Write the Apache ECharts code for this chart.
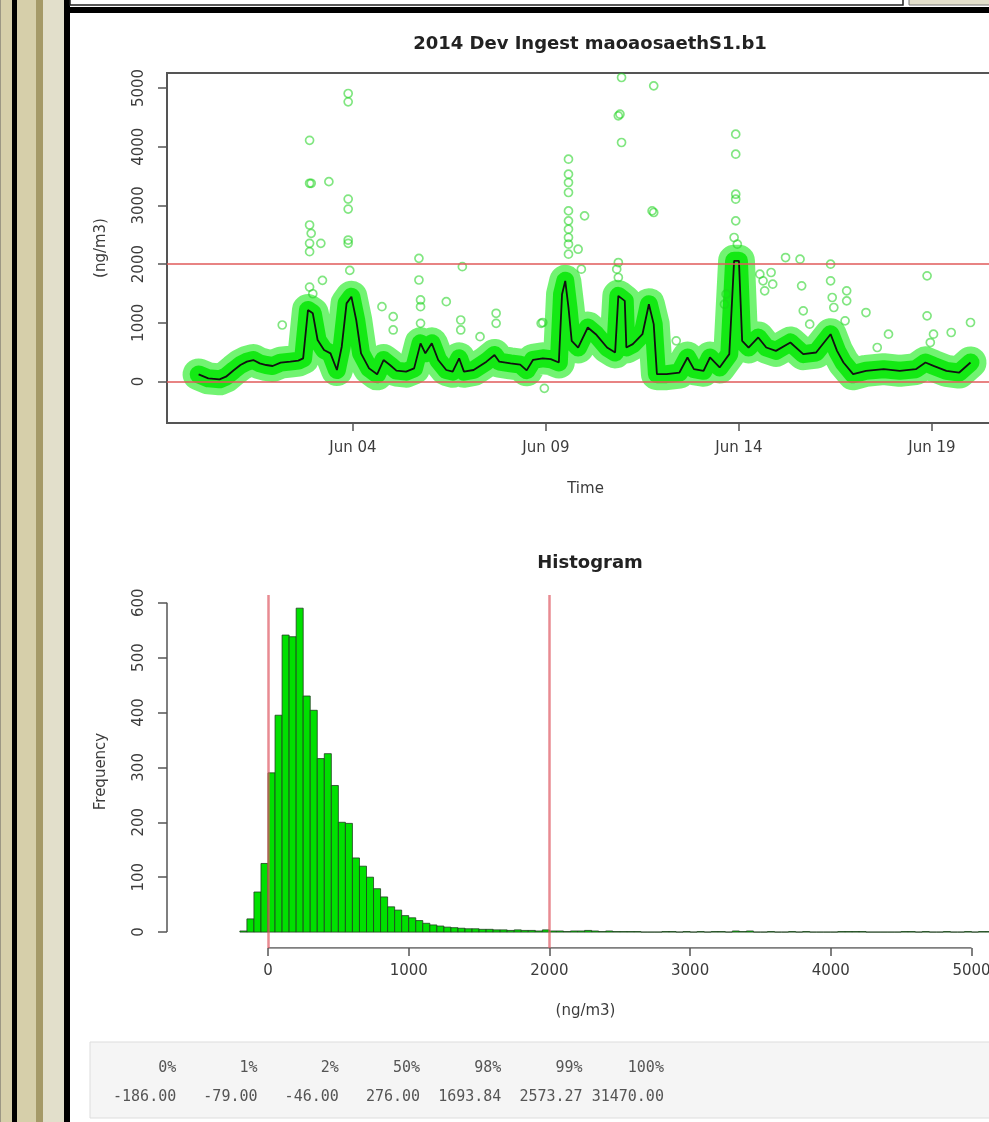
<!DOCTYPE html>
<html>
<head>
<meta charset="utf-8">
<title>2014 Dev Ingest maoaosaethS1.b1</title>
<script src="https://cdn.jsdelivr.net/npm/echarts@6/dist/echarts.min.js"></script>
<style>
html, body { margin:0; padding:0; width:989px; height:1122px; overflow:hidden; background:#fff; }
#main { position:absolute; left:0; top:0; width:1030px; height:1122px; }
</style>
</head>
<body>
<div id="main"></div>
<script>
// smoothed concentration (black line)
var lineTimes = [
	'2014-05-31 00:00','2014-05-31 06:00','2014-05-31 13:00','2014-05-31 17:00','2014-05-31 22:00',
	'2014-06-01 02:00','2014-06-01 06:00','2014-06-01 10:00','2014-06-01 14:00','2014-06-01 18:00','2014-06-01 22:00',
	'2014-06-02 03:00','2014-06-02 09:00','2014-06-02 14:00','2014-06-02 17:00','2014-06-02 20:00','2014-06-02 23:00',
	'2014-06-03 02:00','2014-06-03 06:00','2014-06-03 10:00','2014-06-03 14:00','2014-06-03 17:00','2014-06-03 20:00','2014-06-03 23:00',
	'2014-06-04 02:00','2014-06-04 05:00','2014-06-04 10:00','2014-06-04 15:00','2014-06-04 19:00','2014-06-04 23:00',
	'2014-06-05 03:00','2014-06-05 09:00','2014-06-05 14:00','2014-06-05 18:00','2014-06-05 21:00',
	'2014-06-06 01:00','2014-06-06 05:00','2014-06-06 10:00','2014-06-06 14:00','2014-06-06 18:00','2014-06-06 21:00',
	'2014-06-07 03:00','2014-06-07 11:00','2014-06-07 16:00','2014-06-07 19:00',
	'2014-06-08 02:00','2014-06-08 08:00','2014-06-08 12:00','2014-06-08 16:00','2014-06-08 22:00',
	'2014-06-09 03:00','2014-06-09 08:00','2014-06-09 10:00','2014-06-09 12:00','2014-06-09 14:00','2014-06-09 16:00','2014-06-09 20:00',
	'2014-06-10 02:00','2014-06-10 07:00','2014-06-10 14:00','2014-06-10 19:00','2014-06-10 21:00',
	'2014-06-11 01:00','2014-06-11 02:00','2014-06-11 06:00','2014-06-11 12:00','2014-06-11 16:00','2014-06-11 19:00','2014-06-11 21:00',
	'2014-06-12 03:00','2014-06-12 11:00','2014-06-12 16:00','2014-06-12 20:00',
	'2014-06-13 02:00','2014-06-13 06:00','2014-06-13 12:00','2014-06-13 18:00','2014-06-13 21:00',
	'2014-06-14 00:00','2014-06-14 02:00','2014-06-14 06:00','2014-06-14 12:00','2014-06-14 17:00','2014-06-14 23:00',
	'2014-06-15 08:00','2014-06-15 16:00',
	'2014-06-16 00:00','2014-06-16 09:00','2014-06-16 13:00','2014-06-16 17:00','2014-06-16 23:00',
	'2014-06-17 07:00','2014-06-17 18:00','2014-06-18 04:00','2014-06-18 14:00','2014-06-18 20:00',
	'2014-06-19 01:00','2014-06-19 09:00','2014-06-19 17:00','2014-06-20 00:00'
];
var lineValues = [
	120, 54, 37, 82, 196,
	281, 338, 366, 309, 281, 264,
	321, 338, 355, 395, 1218, 1162,
	707, 537, 480, 196, 593, 1331, 1445,
	1048, 480, 224, 122, 366, 281,
	185, 168, 224, 650, 480,
	650, 366, 196, 168, 395, 168,
	196, 338, 451, 338,
	309, 288, 190, 370, 395,
	380, 324, 1488, 1715, 1261, 693, 579,
	920, 806, 579, 494, 1459,
	1374, 579, 636, 806, 1317, 977, 125,
	125, 153, 409, 210,
	182, 409, 239, 466, 2056,
	2056, 693, 579, 750, 579, 522,
	664, 466,
	494, 806, 522, 324, 125,
	182, 210, 182, 210, 324,
	267, 182, 153, 324
];

// isolated high readings (green circles away from the band)
var pointTimes = [
	'2014-06-02 04:00','2014-06-02 21:00','2014-06-02 21:00','2014-06-02 22:00','2014-06-02 21:00','2014-06-02 22:00',
	'2014-06-02 21:00','2014-06-02 21:00','2014-06-02 21:00','2014-06-02 23:00','2014-06-03 04:00','2014-06-03 05:00',
	'2014-06-03 09:00','2014-06-03 21:00','2014-06-03 21:00','2014-06-03 21:00','2014-06-03 21:00','2014-06-03 21:00',
	'2014-06-03 21:00','2014-06-03 22:00','2014-06-04 18:00','2014-06-05 01:00','2014-06-05 01:00','2014-06-05 17:00',
	'2014-06-05 17:00','2014-06-05 18:00','2014-06-05 18:00','2014-06-05 18:00','2014-06-06 10:00','2014-06-06 19:00',
	'2014-06-06 19:00','2014-06-06 20:00','2014-06-07 07:00','2014-06-07 17:00','2014-06-07 17:00','2014-06-08 21:00',
	'2014-06-08 22:00','2014-06-08 23:00',
	'2014-06-09 14:00','2014-06-09 14:00','2014-06-09 14:00','2014-06-09 14:00','2014-06-09 14:00','2014-06-09 14:00',
	'2014-06-09 14:00','2014-06-09 14:00','2014-06-09 14:00','2014-06-09 14:00','2014-06-09 20:00','2014-06-09 22:00',
	'2014-06-10 00:00','2014-06-10 20:00','2014-06-10 21:00','2014-06-10 21:00','2014-06-10 21:00','2014-06-10 22:00',
	'2014-06-10 23:00','2014-06-10 23:00','2014-06-11 18:00','2014-06-11 19:00','2014-06-11 19:00','2014-06-12 09:00',
	'2014-06-13 15:00','2014-06-13 16:00','2014-06-13 21:00','2014-06-13 22:00','2014-06-13 22:00','2014-06-13 22:00',
	'2014-06-13 22:00','2014-06-13 22:00','2014-06-13 23:00','2014-06-14 13:00','2014-06-14 15:00','2014-06-14 16:00',
	'2014-06-14 20:00','2014-06-14 21:00','2014-06-15 05:00','2014-06-15 14:00','2014-06-15 15:00','2014-06-15 16:00',
	'2014-06-15 20:00','2014-06-16 09:00','2014-06-16 09:00','2014-06-16 10:00','2014-06-16 11:00','2014-06-16 18:00',
	'2014-06-16 19:00','2014-06-16 19:00','2014-06-17 07:00','2014-06-17 14:00','2014-06-17 21:00','2014-06-18 21:00',
	'2014-06-18 21:00','2014-06-18 23:00','2014-06-19 01:00','2014-06-19 12:00','2014-06-20 00:00'
];
var pointValues = [
	963, 4109, 3377, 3377, 2666, 2524,
	2354, 2212, 1609, 1495, 2354, 1723,
	3405, 4907, 4765, 3108, 2938, 2410,
	2354, 1893, 1275, 1105, 878, 2098,
	1729, 1389, 1275, 991, 1360, 1048,
	878, 1956, 764, 1162, 991, 991,
	1005, -116,
	3788, 3532, 3390, 3220, 2907, 2737,
	2595, 2453, 2340, 2169, 2254, 1914,
	2822, 1914, 4526, 2027, 1772, 4554,
	5179, 4072, 2907, 5037, 2879, 693,
	1317, 1488, 2453, 4214, 3873, 3191,
	3106, 2737, 2340, 1829, 1715, 1545,
	1857, 1658, 2112, 2084, 1630, 1204,
	977, 1999, 1715, 1431, 1261, 1034,
	1545, 1374, 1175, 579, 806, 1800,
	1119, 664, 806, 835, 1005
];

var concTicks = [0, 1000, 2000, 3000, 4000, 5000];
var dayTicks = ['2014-06-04 00:00', '2014-06-09 00:00', '2014-06-14 00:00', '2014-06-19 00:00'];
var limitLines = [0, 2000];
var timeMin = '2014-05-30 04:20';
var timeMax = '2014-06-20 20:50';

// histogram: bins of 50 starting at -200
var histStart = -200;
var histWidth = 50;
var histCounts = [
	2, 24, 73, 125, 290, 395, 541, 538, 590, 430,
	404, 316, 325, 267, 200, 198, 135, 120, 100, 79,
	64, 46, 40, 30, 26, 21, 16, 13, 11, 9,
	8, 7, 6, 6, 5, 5, 4, 4, 3, 4,
	3, 3, 2, 4, 2, 2, 1, 2, 2, 3,
	2, 1, 2, 1, 1, 1, 1, 0, 0, 0,
	1, 1, 0, 1, 0, 1, 0, 1, 1, 0,
	2, 1, 2, 0, 0, 1, 0, 0, 1, 0,
	1, 0, 0, 0, 0, 1, 1, 1, 1, 0,
	0, 0, 0, 0, 1, 1, 0, 1, 0, 0,
	1, 0, 0, 1, 0, 1, 1, 0
];
var histXTicks = [0, 1000, 2000, 3000, 4000, 5000];
var histYTicks = [0, 100, 200, 300, 400, 500, 600];
var histLimits = [0, 2000];

var quantileNames = ['0%', '1%', '2%', '50%', '98%', '99%', '100%'];
var quantileValues = ['-186.00', '-79.00', '-46.00', '276.00', '1693.84', '2573.27', '31470.00'];

function toMs(s){
	return Date.parse(s.replace(' ', 'T') + ':00Z');
}
var months = ['Jan','Feb','Mar','Apr','May','Jun','Jul','Aug','Sep','Oct','Nov','Dec'];
function dayLabel(v){
	var d = new Date(v);
	var dd = d.getUTCDate();
	return months[d.getUTCMonth()] + ' ' + (dd < 10 ? '0' + dd : dd);
}
function plain(v){ return String(v); }
function padLeft(s, n){
	while (s.length < n) s = ' ' + s;
	return s;
}

var lineData = [];
for (var i = 0; i < lineTimes.length; i++) lineData.push([toMs(lineTimes[i]), lineValues[i]]);
var pointData = [];
for (var i = 0; i < pointTimes.length; i++) pointData.push([toMs(pointTimes[i]), pointValues[i]]);
var dayTickMs = dayTicks.map(toMs);

var histData = [];
for (var i = 0; i < histCounts.length; i++) {
	var lo = histStart + i * histWidth;
	histData.push([lo, lo + histWidth, histCounts[i]]);
}

// R prints quantile() as fixed-width columns
var colW = 8;
var headLine = quantileNames.map(function(s){ return padLeft(s, colW); }).join(' ');
var valLine = quantileValues.map(function(s){ return padLeft(s, colW); }).join(' ');

var FONT = 'DejaVu Sans';
var TXT = '#3c3c3c';
var AX = '#555';

var chart = echarts.init(document.getElementById('main'), null, {renderer: 'canvas'});

var option = {
	animation: false,
	backgroundColor: '#fff',
	textStyle: {fontFamily: FONT},
	title: [
		{text: '2014 Dev Ingest maoaosaethS1.b1', left: 585, top: 30, textAlign: 'center',
		 textStyle: {fontFamily: FONT, fontSize: 18, fontWeight: 'bold', color: '#222'}},
		{text: 'Histogram', left: 585, top: 549, textAlign: 'center',
		 textStyle: {fontFamily: FONT, fontSize: 18, fontWeight: 'bold', color: '#222'}}
	],
	grid: [
		{left: 167, top: 73, width: 837, height: 350, show: true, borderColor: '#555', borderWidth: 2, backgroundColor: 'transparent'},
		{left: 167, top: 595, width: 837, height: 353, show: false}
	],
	xAxis: [
		{
			gridIndex: 0, type: 'value', min: toMs(timeMin), max: toMs(timeMax),
			axisLine: {show: false, onZero: false},
			axisTick: {show: true, length: 8, customValues: dayTickMs, lineStyle: {color: AX, width: 1.5}},
			axisLabel: {customValues: dayTickMs, formatter: dayLabel, color: TXT, fontSize: 15, margin: 18, fontFamily: FONT},
			splitLine: {show: false},
			name: 'Time', nameLocation: 'middle', nameGap: 59,
			nameTextStyle: {color: TXT, fontSize: 15, fontFamily: FONT}
		},
		{
			gridIndex: 1, type: 'value', min: -718, max: 5231,
			axisLine: {show: false, onZero: false},
			axisTick: {show: true, length: 8, customValues: histXTicks, lineStyle: {color: AX, width: 1.5}},
			axisLabel: {customValues: histXTicks, formatter: plain, color: TXT, fontSize: 15, margin: 16, fontFamily: FONT},
			splitLine: {show: false},
			name: '(ng/m3)', nameLocation: 'middle', nameGap: 56,
			nameTextStyle: {color: TXT, fontSize: 15, fontFamily: FONT}
		}
	],
	yAxis: [
		{
			gridIndex: 0, type: 'value', min: -707, max: 5256,
			axisLine: {show: false, onZero: false},
			axisTick: {show: true, length: 9, customValues: concTicks, lineStyle: {color: AX, width: 1.5}},
			axisLabel: {customValues: concTicks, formatter: plain, rotate: 90, color: TXT, fontSize: 15, margin: 20, fontFamily: FONT},
			splitLine: {show: false},
			name: '(ng/m3)', nameLocation: 'middle', nameGap: 58,
			nameTextStyle: {color: TXT, fontSize: 15, fontFamily: FONT}
		},
		{
			gridIndex: 1, type: 'value', min: -29, max: 614,
			axisLine: {show: false, onZero: false},
			axisTick: {show: true, length: 9, customValues: histYTicks, lineStyle: {color: AX, width: 1.5}},
			axisLabel: {customValues: histYTicks, formatter: plain, rotate: 90, color: TXT, fontSize: 15, margin: 20, fontFamily: FONT},
			splitLine: {show: false},
			name: 'Frequency', nameLocation: 'middle', nameGap: 58,
			nameTextStyle: {color: TXT, fontSize: 15, fontFamily: FONT}
		}
	],
	series: [
		{
			// outer spread of the point cloud
			type: 'line', xAxisIndex: 0, yAxisIndex: 0, data: lineData,
			showSymbol: false, silent: true, z: 1,
			lineStyle: {color: 'rgba(20,235,20,0.6)', width: 32, join: 'round', cap: 'round'}
		},
		{
			// dense core of readings around the running mean
			type: 'line', xAxisIndex: 0, yAxisIndex: 0, data: lineData,
			showSymbol: false, silent: true, z: 1,
			lineStyle: {color: 'rgba(10,232,10,0.9)', width: 18, join: 'round', cap: 'round'}
		},
		{
			type: 'scatter', xAxisIndex: 0, yAxisIndex: 0, data: pointData,
			symbol: 'circle', symbolSize: 8, silent: true, z: 2,
			itemStyle: {color: 'rgba(0,0,0,0)', borderColor: 'rgba(30,210,30,0.7)', borderWidth: 1.7},
			markLine: {
				silent: true, symbol: 'none', label: {show: false},
				lineStyle: {color: '#e05a5a', width: 1.6, type: 'solid'},
				data: limitLines.map(function(v){ return {yAxis: v}; })
			}
		},
		{
			type: 'line', xAxisIndex: 0, yAxisIndex: 0, data: lineData,
			showSymbol: false, silent: true, z: 3,
			lineStyle: {color: '#111', width: 1.8}
		},
		{
			type: 'custom', xAxisIndex: 1, yAxisIndex: 1, data: histData, silent: true, z: 2,
			encode: {x: [0, 1], y: 2},
			renderItem: function(params, api){
				var p1 = api.coord([api.value(0), api.value(2)]);
				var p2 = api.coord([api.value(1), 0]);
				return {
					type: 'rect',
					shape: {x: p1[0], y: p1[1], width: p2[0] - p1[0], height: p2[1] - p1[1]},
					style: {fill: '#00e000', stroke: '#1f3f1f', lineWidth: 0.8}
				};
			},
			markLine: {
				silent: true, symbol: 'none', label: {show: false},
				lineStyle: {color: 'rgba(222,90,100,0.7)', width: 2.5, type: 'solid'},
				data: histLimits.map(function(v){ return {xAxis: v}; })
			}
		},
		{
			// R axis lines only cover the tick range
			type: 'line', xAxisIndex: 1, yAxisIndex: 1, silent: true, showSymbol: false, z: 3,
			data: [[-718, 0], [-718, 600]],
			lineStyle: {color: AX, width: 1.5}
		},
		{
			type: 'line', xAxisIndex: 1, yAxisIndex: 1, silent: true, showSymbol: false, z: 3,
			data: [[0, -29], [5000, -29]],
			lineStyle: {color: AX, width: 1.5}
		}
	],
	graphic: [
		// page frame on the left
		{type: 'rect', shape: {x: 0, y: 0, width: 1, height: 1122}, style: {fill: '#9c9784'}},
		{type: 'rect', shape: {x: 1, y: 0, width: 11, height: 1122}, style: {fill: '#d6cfaa'}},
		{type: 'rect', shape: {x: 12, y: 0, width: 5, height: 1122}, style: {fill: '#000'}},
		{type: 'rect', shape: {x: 17, y: 0, width: 19, height: 1122}, style: {fill: '#d6cfaa'}},
		{type: 'rect', shape: {x: 36, y: 0, width: 7, height: 1122}, style: {fill: '#a59a68'}},
		{type: 'rect', shape: {x: 43, y: 0, width: 21, height: 1122}, style: {fill: '#e2dfcb'}},
		{type: 'rect', shape: {x: 64, y: 0, width: 6, height: 1122}, style: {fill: '#000'}},
		{type: 'rect', shape: {x: 64, y: 7, width: 970, height: 6}, style: {fill: '#000'}},
		{type: 'rect', shape: {x: 70, y: -3, width: 833, height: 8}, style: {fill: '#fff', stroke: '#222', lineWidth: 1.5}},
		{type: 'rect', shape: {x: 909, y: -3, width: 90, height: 8}, style: {fill: '#e2dfcb', stroke: '#777', lineWidth: 1}},
		// quantile printout
		{type: 'rect', shape: {x: 90, y: 1042, width: 930, height: 76}, style: {fill: '#f5f5f5', stroke: '#dddddd', lineWidth: 1}},
		{type: 'text', x: 104, y: 1068, style: {text: headLine, font: '15px "DejaVu Sans Mono"', fill: '#555', verticalAlign: 'middle'}},
		{type: 'text', x: 104, y: 1097, style: {text: valLine, font: '15px "DejaVu Sans Mono"', fill: '#555', verticalAlign: 'middle'}}
	]
};

chart.setOption(option);
</script>
</body>
</html>
